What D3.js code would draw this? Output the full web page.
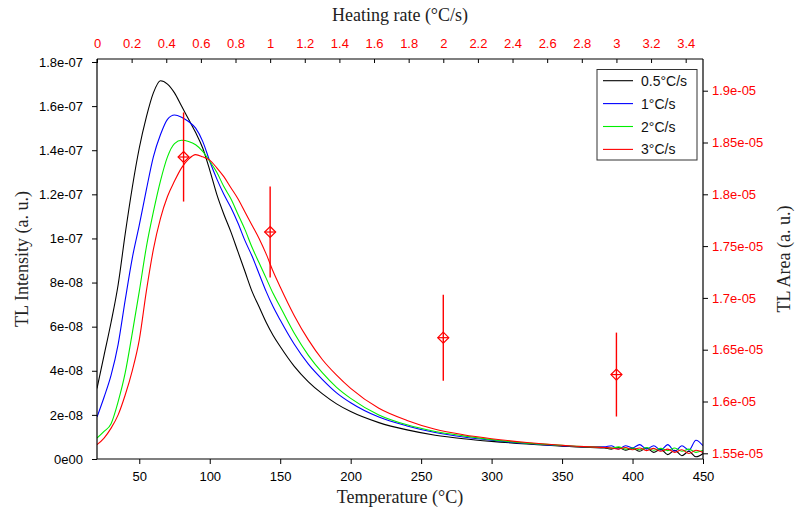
<!DOCTYPE html>
<html>
<head>
<meta charset="utf-8">
<script src="https://cdn.jsdelivr.net/npm/d3@7"></script>
<style>
  html, body { margin: 0; padding: 0; background: #fff; }
  svg { display: block; }
  .tick text { font-family: "Liberation Sans", Arial, sans-serif; font-size: 13px; }
  .title { font-family: "Liberation Serif", "Times New Roman", serif; font-size: 18px; fill: #222; }
</style>
</head>
<body>
<svg id="chart" width="795" height="515"></svg>
<script>
// ---------------- DATA ----------------
const temps = [20,25,30,35,40,45,50,55,60,65,70,75,80,85,90,95,100,105,110,115,120,125,130,135,140,145,150,
  160,170,180,190,200,220,240,260,280,300,325,350,360,370,380,
  385,390,395,400,405,410,415,420,425,430,435,440,445,450];

// TL intensity in units of 1e-8 (a.u.)
const black05 = [3.2,4.7,6.2,7.9,10.2,12.3,14.1,15.5,16.6,17.15,17.0,16.6,16.0,15.4,14.8,14.1,13.1,12.0,11.1,10.3,9.4,8.5,7.6,6.9,6.2,5.6,5.1,
  4.2,3.5,2.95,2.5,2.15,1.65,1.32,1.08,0.92,0.8,0.68,0.58,0.55,0.52,0.5,
  0.45,0.52,0.4,0.48,0.35,0.5,0.3,0.45,0.2,0.4,0.15,0.35,0.1,0.25];
const blue1 = [1.9,2.8,3.8,5.2,7.2,9.1,10.6,12.2,13.7,14.7,15.4,15.6,15.5,15.3,15.0,14.4,13.5,12.7,12.0,11.4,10.7,9.9,9.2,8.4,7.6,6.9,6.3,
  5.2,4.3,3.6,3.0,2.55,1.9,1.5,1.2,1.0,0.85,0.7,0.6,0.57,0.55,0.55,
  0.6,0.45,0.6,0.5,0.65,0.45,0.6,0.4,0.65,0.35,0.6,0.4,0.85,0.6];
const green2 = [0.95,1.25,1.6,2.6,3.9,5.7,7.6,9.6,11.2,12.6,13.7,14.3,14.45,14.4,14.25,13.95,13.5,13.0,12.35,11.8,11.1,10.4,9.6,8.9,8.2,7.5,6.9,
  5.7,4.7,3.9,3.25,2.75,2.0,1.55,1.25,1.05,0.88,0.72,0.62,0.58,0.55,0.52,
  0.5,0.55,0.45,0.5,0.42,0.52,0.4,0.48,0.38,0.5,0.35,0.45,0.3,0.4];
const red3 = [0.65,0.95,1.4,2.0,2.9,4.0,5.4,7.6,9.5,10.9,11.9,12.6,13.2,13.6,13.8,13.7,13.55,13.2,12.8,12.3,11.8,11.2,10.6,10.0,9.3,8.5,7.8,
  6.5,5.4,4.5,3.8,3.2,2.3,1.75,1.35,1.1,0.92,0.75,0.62,0.58,0.55,0.52,
  0.5,0.45,0.52,0.42,0.5,0.38,0.48,0.35,0.45,0.3,0.42,0.25,0.4,0.3];

const seriesNames = ["0.5°C/s", "1°C/s", "2°C/s", "3°C/s"];
const seriesColors = ["#000000", "#0000ff", "#00ee00", "#ff0000"];

// TL area vs heating rate (right / top axes)
const heatingRates = [0.5, 1, 2, 3];
const areaValues = [1.836e-5, 1.7636e-5, 1.6616e-5, 1.626e-5];
const areaErrors = [0.43e-6, 0.44e-6, 0.415e-6, 0.405e-6];

// tick values / labels
const bottomTicks = [50,100,150,200,250,300,350,400,450];
const leftTicks = [0,2e-8,4e-8,6e-8,8e-8,1e-7,1.2e-7,1.4e-7,1.6e-7,1.8e-7];
const leftTickLabels = ["0e00","2e-08","4e-08","6e-08","8e-08","1e-07","1.2e-07","1.4e-07","1.6e-07","1.8e-07"];
const rightTicks = [1.55e-5,1.6e-5,1.65e-5,1.7e-5,1.75e-5,1.8e-5,1.85e-5,1.9e-5];
const rightTickLabels = ["1.55e-05","1.6e-05","1.65e-05","1.7e-05","1.75e-05","1.8e-05","1.85e-05","1.9e-05"];
const topTicks = [0,0.2,0.4,0.6,0.8,1,1.2,1.4,1.6,1.8,2,2.2,2.4,2.6,2.8,3,3.2,3.4];
const topTickLabels = ["0","0.2","0.4","0.6","0.8","1","1.2","1.4","1.6","1.8","2","2.2","2.4","2.6","2.8","3","3.2","3.4"];

// ---------------- LAYOUT ----------------
const svg = d3.select("#chart");
const L = 97, R = 703, T = 59, B = 459;

const x = d3.scaleLinear().domain([20, 450]).range([L, R]);
const y = d3.scaleLinear().domain([0, 1.8136e-7]).range([B, T]);
const xTop = d3.scaleLinear().domain([0, 3.5]).range([L, R]);
const yRight = d3.scaleLinear().domain([1.5445e-5, 1.9306e-5]).range([B, T]);

const red = "#ff0000";

// clip
svg.append("defs").append("clipPath").attr("id", "clip")
  .append("rect").attr("x", L).attr("y", T).attr("width", R - L).attr("height", B - T);

// curves
const allSeries = [black05, blue1, green2, red3];
const line = d3.line().x((d, i) => x(temps[i])).y(d => y(d * 1e-8)).curve(d3.curveMonotoneX);
const curves = svg.append("g").attr("clip-path", "url(#clip)");
allSeries.forEach((s, k) => {
  curves.append("path").datum(s)
    .attr("d", line)
    .attr("fill", "none")
    .attr("stroke", seriesColors[k])
    .attr("stroke-width", 1.1)
    .attr("stroke-linejoin", "round");
});

// error bars + markers
const eb = svg.append("g");
heatingRates.forEach((h, i) => {
  const cx = xTop(h), cy = yRight(areaValues[i]);
  eb.append("line")
    .attr("x1", cx).attr("x2", cx)
    .attr("y1", yRight(areaValues[i] + areaErrors[i]))
    .attr("y2", yRight(areaValues[i] - areaErrors[i]))
    .attr("stroke", red).attr("stroke-width", 1.4);
  const s = 5.5;
  eb.append("path")
    .attr("d", `M${cx},${cy - s}L${cx + s},${cy}L${cx},${cy + s}L${cx - s},${cy}Z`)
    .attr("fill", "none").attr("stroke", red).attr("stroke-width", 1.2);
  eb.append("path")
    .attr("d", `M${cx - s},${cy}H${cx + s}`)
    .attr("stroke", red).attr("stroke-width", 1.2);
});

// ---------------- AXES ----------------
function minorRange(a, b, step) {
  const out = [];
  for (let v = a; v <= b + step * 1e-6; v += step) out.push(+v.toPrecision(10));
  return out;
}

// bottom
const gB = svg.append("g").attr("transform", `translate(0,${B})`);
gB.call(d3.axisBottom(x).tickValues(minorRange(20, 450, 10)).tickSize(3).tickFormat(""));
gB.call(d3.axisBottom(x).tickValues(bottomTicks).tickSize(5).tickPadding(8).tickFormat(d3.format("d")));

// left
const gL = svg.append("g").attr("transform", `translate(${L},0)`);
gL.call(d3.axisLeft(y).tickValues(minorRange(0, 1.8e-7, 1e-8)).tickSize(3).tickFormat(""));
gL.call(d3.axisLeft(y).tickValues(leftTicks).tickSize(5).tickPadding(9)
  .tickFormat((d, i) => leftTickLabels[i]));

// right
const gR = svg.append("g").attr("transform", `translate(${R},0)`);
gR.call(d3.axisRight(yRight).tickValues(minorRange(1.55e-5, 1.93e-5, 1e-7)).tickSize(3).tickFormat(""));
gR.call(d3.axisRight(yRight).tickValues(rightTicks).tickSize(5).tickPadding(4)
  .tickFormat((d, i) => rightTickLabels[i]));
gR.selectAll(".tick text").attr("fill", red);

// top
const gT = svg.append("g").attr("transform", `translate(0,${T})`);
gT.call(d3.axisTop(xTop).tickValues(minorRange(0, 3.5, 0.1)).tickSize(-3).tickFormat(""));
gT.call(d3.axisTop(xTop).tickValues(topTicks).tickSize(-4).tickPadding(11)
  .tickFormat((d, i) => topTickLabels[i]));
gT.selectAll(".tick text").attr("fill", red);

svg.selectAll(".domain").attr("stroke", "#000").attr("stroke-width", 1.2);
svg.selectAll(".tick line").attr("stroke", "#000");
gB.selectAll(".domain").attr("d", `M${L},0H${R}`);
gT.selectAll(".domain").attr("d", `M${L},0H${R}`);
gL.selectAll(".domain").attr("d", `M0,${T}V${B}`);
gR.selectAll(".domain").attr("d", `M0,${T}V${B}`);

// titles
svg.append("text").attr("class", "title").attr("x", (L + R) / 2).attr("y", 21)
  .attr("text-anchor", "middle").text("Heating rate (°C/s)");
svg.append("text").attr("class", "title").attr("x", (L + R) / 2).attr("y", 503)
  .attr("text-anchor", "middle").text("Temperature (°C)");
svg.append("text").attr("class", "title")
  .attr("transform", `translate(28,${(T + B) / 2}) rotate(-90)`)
  .attr("text-anchor", "middle").text("TL Intensity (a. u.)");
svg.append("text").attr("class", "title")
  .attr("transform", `translate(790,${(T + B) / 2}) rotate(-90)`)
  .attr("text-anchor", "middle").text("TL Area (a. u.)");

// legend
const lg = svg.append("g");
lg.append("rect").attr("x", 597).attr("y", 69.5).attr("width", 100).attr("height", 90.5)
  .attr("fill", "#fff").attr("stroke", "#333").attr("stroke-width", 1);
seriesNames.forEach((n, i) => {
  const yy = 80.7 + i * 22.9;
  lg.append("line").attr("x1", 603).attr("x2", 633).attr("y1", yy).attr("y2", yy)
    .attr("stroke", seriesColors[i]).attr("stroke-width", 1.1);
  lg.append("text").attr("x", 641).attr("y", yy + 5)
    .style("font-family", "'Liberation Sans', Arial, sans-serif").style("font-size", "14px")
    .attr("fill", "#111").text(n);
});
</script>
</body>
</html>
